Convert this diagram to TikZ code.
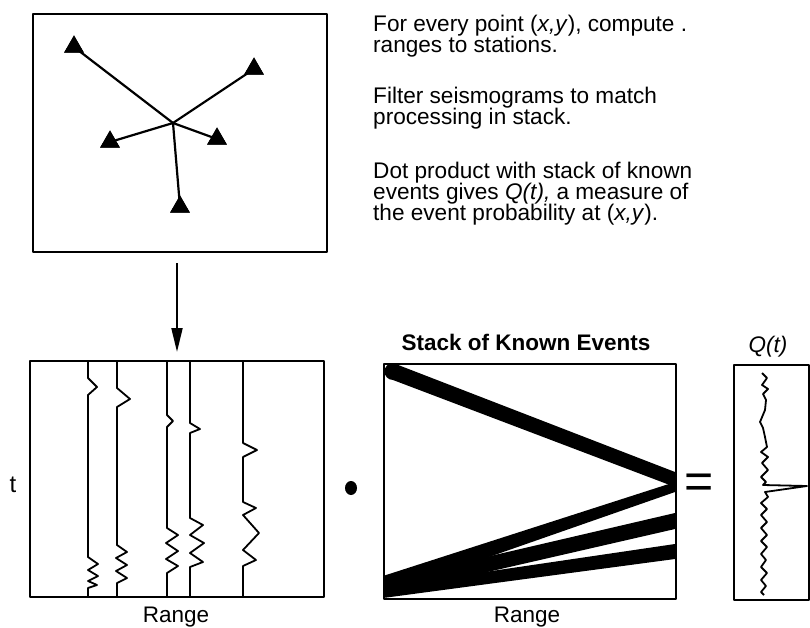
\documentclass[tikz,border=0pt]{standalone}
\usepackage{fontspec}
\setmainfont{Liberation Sans}
\usetikzlibrary{shapes.geometric,arrows.meta}
\begin{document}
\begin{tikzpicture}[x=1pt,y=-1pt,line join=round,
  frame/.style={draw,line width=2pt,inner sep=0pt,anchor=north west},
  trace/.style={line width=1.8pt},
  ray/.style={line width=2.2pt},
  station/.style={regular polygon,regular polygon sides=3,fill=black,inner sep=0pt,minimum size=23pt},
  txt/.style={font=\fontsize{22.6}{21}\selectfont,inner sep=0pt,anchor=base west},
  lbl/.style={font=\fontsize{22.5}{24}\selectfont,inner sep=0pt,anchor=base},
  band/.style={fill=black}]
\useasboundingbox (0,0) rectangle (810,628);

% ---- map of stations
\coordinate (ev) at (173,123);
\node[station] (s1) at (74,47) {};
\node[station] (s2) at (254,69) {};
\node[station] (s3) at (110,142) {};
\node[station] (s4) at (217,139) {};
\node[station] (s5) at (180,207) {};
\draw[ray] (ev) -- (s1.center);
\draw[ray] (ev) -- (s2.center);
\draw[ray] (ev) -- (s3.center);
\draw[ray] (ev) -- (s4.center);
\draw[ray] (ev) -- (s5.center);
\node[station] at (s1) {};
\node[station] at (s2) {};
\node[station] at (s3) {};
\node[station] at (s4) {};
\node[station] at (s5) {};
\node[frame,minimum width=294pt,minimum height=238pt] (map) at (32,13) {};

% ---- text
\node[txt] (a1) at (373,32) {For every point (\textit{x,y}), compute .};
\node[txt] (a2) at (373,53) {ranges to stations.};
\node[txt] (b1) at (373,104) {Filter seismograms to match};
\node[txt] (b2) at (373,125) {processing in stack.};
\node[txt] (c1) at (373,179) {Dot product with stack of known};
\node[txt] (c2) at (373,200) {events gives \textit{Q(t),} a measure of};
\node[txt] (c3) at (373,221) {the event probability at (\textit{x,y}).};

% ---- seismograms
\node[frame,minimum width=294pt,minimum height=236pt] (seis) at (29,360) {};
\coordinate (arrowtop) at (seis.north |- 0,263);
\draw[line width=2pt,-{Triangle[length=24pt,width=11pt]}] (arrowtop) -- ([yshift=8pt]seis.north);
\draw[trace] (88,360)--(88,378)--(97,387)--(88,395)--(88,557)--(98,564)--(88,570)--(98,576)--(88,581)--(97,585)--(88,588)--(88,596);
\draw[trace] (117,360)--(117,388)--(130,399)--(117,407)--(117,545)--(127,552)--(116,558)--(127,565)--(116,571)--(127,578)--(117,583)--(117,596);
\draw[trace] (167,360)--(167,415)--(173,421)--(167,427)--(167,528)--(178,535)--(166,543)--(178,551)--(166,559)--(178,566)--(167,573)--(167,596);
\draw[trace] (190,360)--(190,423)--(200,429)--(190,433)--(190,518)--(203,525)--(190,535)--(204,543)--(190,553)--(203,562)--(190,567)--(190,596);
\draw[trace] (243,360)--(243,443)--(257,450)--(243,457)--(243,502)--(256,508)--(243,515)--(259,533)--(243,550)--(256,560)--(243,566)--(243,596);
\node[lbl,font=\fontsize{24}{26}\selectfont] (tl) at (13,492) {t};
\node[lbl] (r1) at (176,622) {Range};

% ---- dot product
\node[ellipse,fill=black,inner sep=0pt,minimum width=12pt,minimum height=14pt] (dot) at (351,488) {};

% ---- stack
\fill[band] (393,363) -- (675,472) -- (675,487) -- (393,380) -- cycle;
\fill[band] (393,371.5) circle[radius=8.5];
\fill[band] (383,576) -- (675,482) -- (675,492) -- (383,594) -- cycle;
\fill[band] (383,581) -- (675,513) -- (675,529) -- (383,596) -- cycle;
\fill[band] (383,587) -- (675,544) -- (675,559) -- (383,598) -- cycle;
\node[frame,minimum width=292pt,minimum height=235pt] (stack) at (383,363) {};
\node[lbl,font=\bfseries\fontsize{22.5}{24}\selectfont] (st) at (526,350) {Stack of Known Events};
\node[lbl] (r2) at (527,622) {Range};

% ---- equals
\node[lbl,font=\fontsize{50}{50}\selectfont] (eq) at (699,498) {=};

% ---- Q(t)
\node[frame,minimum width=75pt,minimum height=235pt] (qbox) at (733,364) {};
\node[lbl,font=\itshape\fontsize{22.5}{24}\selectfont] (ql) at (768,352) {Q(t)};
\draw[trace] (762,373)--(767,378)--(762,385)--(768,389)--(763,394)--(766,400)--(765,410)--(760,422)--(763,428)--(765,437)--(767,447)--(761,452)--(768,457)--(762,463)--(768,470)--(761,477)--(766,482)--(763,485)--(807,486)--(765,492)--(768,497)--(761,503)--(767,509)--(761,515)--(767,522)--(761,528)--(767,535)--(761,541)--(767,547)--(761,554)--(766,560)--(761,567)--(767,573)--(761,580)--(766,586)--(761,592)--(764,595);
\end{tikzpicture}
\end{document}
